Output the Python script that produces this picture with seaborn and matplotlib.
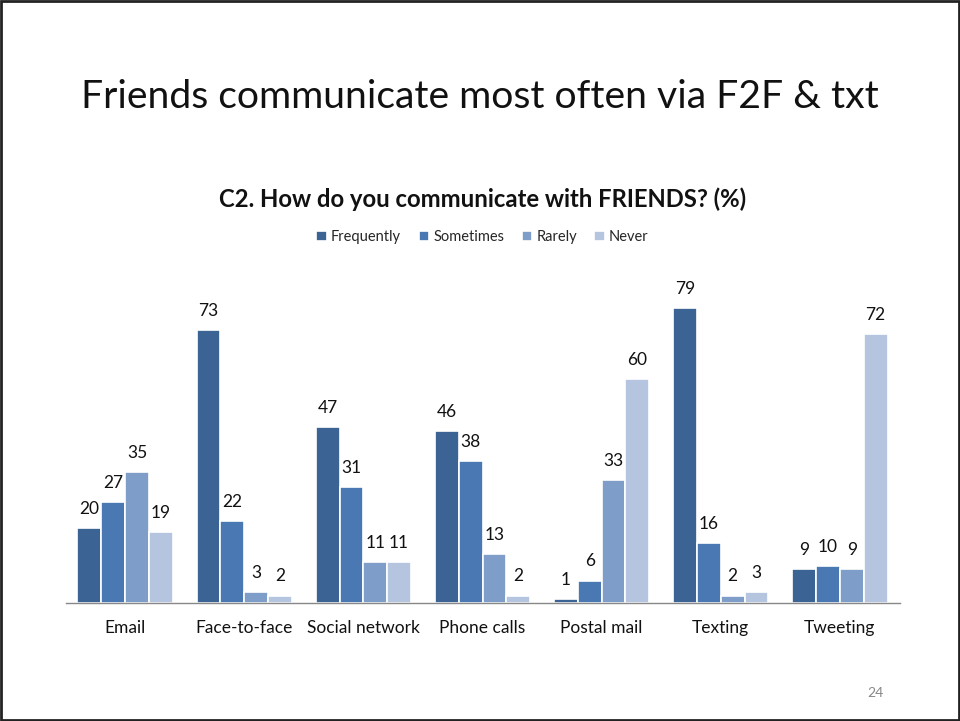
import matplotlib
matplotlib.use("Agg")
import matplotlib.pyplot as plt
import seaborn as sns
import pandas as pd
from matplotlib.patches import Rectangle

categories = ["Email", "Face-to-face", "Social network", "Phone calls",
              "Postal mail", "Texting", "Tweeting"]
levels = ["Frequently", "Sometimes", "Rarely", "Never"]
frequently = [20, 73, 47, 46, 1, 79, 9]
sometimes = [27, 22, 31, 38, 6, 16, 10]
rarely = [35, 3, 11, 13, 33, 2, 9]
never = [19, 2, 11, 2, 60, 3, 72]

colors = ["#3B6495", "#4A78B2", "#7F9DC9", "#B5C5E0"]

rows = []
for lvl, vals in zip(levels, [frequently, sometimes, rarely, never]):
    for c, v in zip(categories, vals):
        rows.append({"cat": c, "level": lvl, "value": v})
df = pd.DataFrame(rows)

sns.set_style("white")
plt.rcParams["font.family"] = ["Lato", "DejaVu Sans"]

fig = plt.figure(figsize=(9.6, 7.21), dpi=100)
ax = fig.add_axes([65.5 / 960, 1 - 603 / 721, 834 / 960, 299 / 721])

sns.barplot(data=df, x="cat", y="value", hue="level", order=categories,
            hue_order=levels, palette=colors, saturation=1, width=0.8, ax=ax,
            edgecolor="white", linewidth=1.2, legend=True)

for cont in ax.containers:
    ax.bar_label(cont, fmt="%d", padding=8, fontsize=12.5, color="#111111")

ax.set_ylim(0, 80)
ax.set_xlim(-0.5, len(categories) - 0.5)
ax.set_xlabel("")
ax.set_ylabel("")
ax.set_yticks([])
ax.tick_params(axis="x", length=0, labelsize=12.5, pad=12, colors="#111111")
for s in ["top", "right", "left"]:
    ax.spines[s].set_visible(False)
ax.spines["bottom"].set_color("#888888")
ax.spines["bottom"].set_linewidth(1)

leg = ax.legend(loc="center", bbox_to_anchor=(0.5, (721 - 237 - (721 - 603)) / 299),
                ncol=4, frameon=False, fontsize=10.5, handlelength=0.7,
                handleheight=0.7, handletextpad=0.3, columnspacing=1.2)

fig.text(0.5, 1 - 97 / 721, "Friends communicate most often via F2F & txt",
         ha="center", va="center", fontsize=28.2, color="#111111")
fig.text(483 / 960, 1 - 199 / 721, "C2. How do you communicate with FRIENDS? (%)",
         ha="center", va="center", fontsize=17.2, fontweight="bold", color="#111111")
fig.text(875 / 960, 1 - 693 / 721, "24", ha="center", va="center",
         fontsize=10, color="#888888")

fig.patches.append(Rectangle((0.001, 0.002), 0.998, 0.996, transform=fig.transFigure,
                             fill=False, edgecolor="#222222", linewidth=2))

fig.savefig("out.png", dpi=100)
